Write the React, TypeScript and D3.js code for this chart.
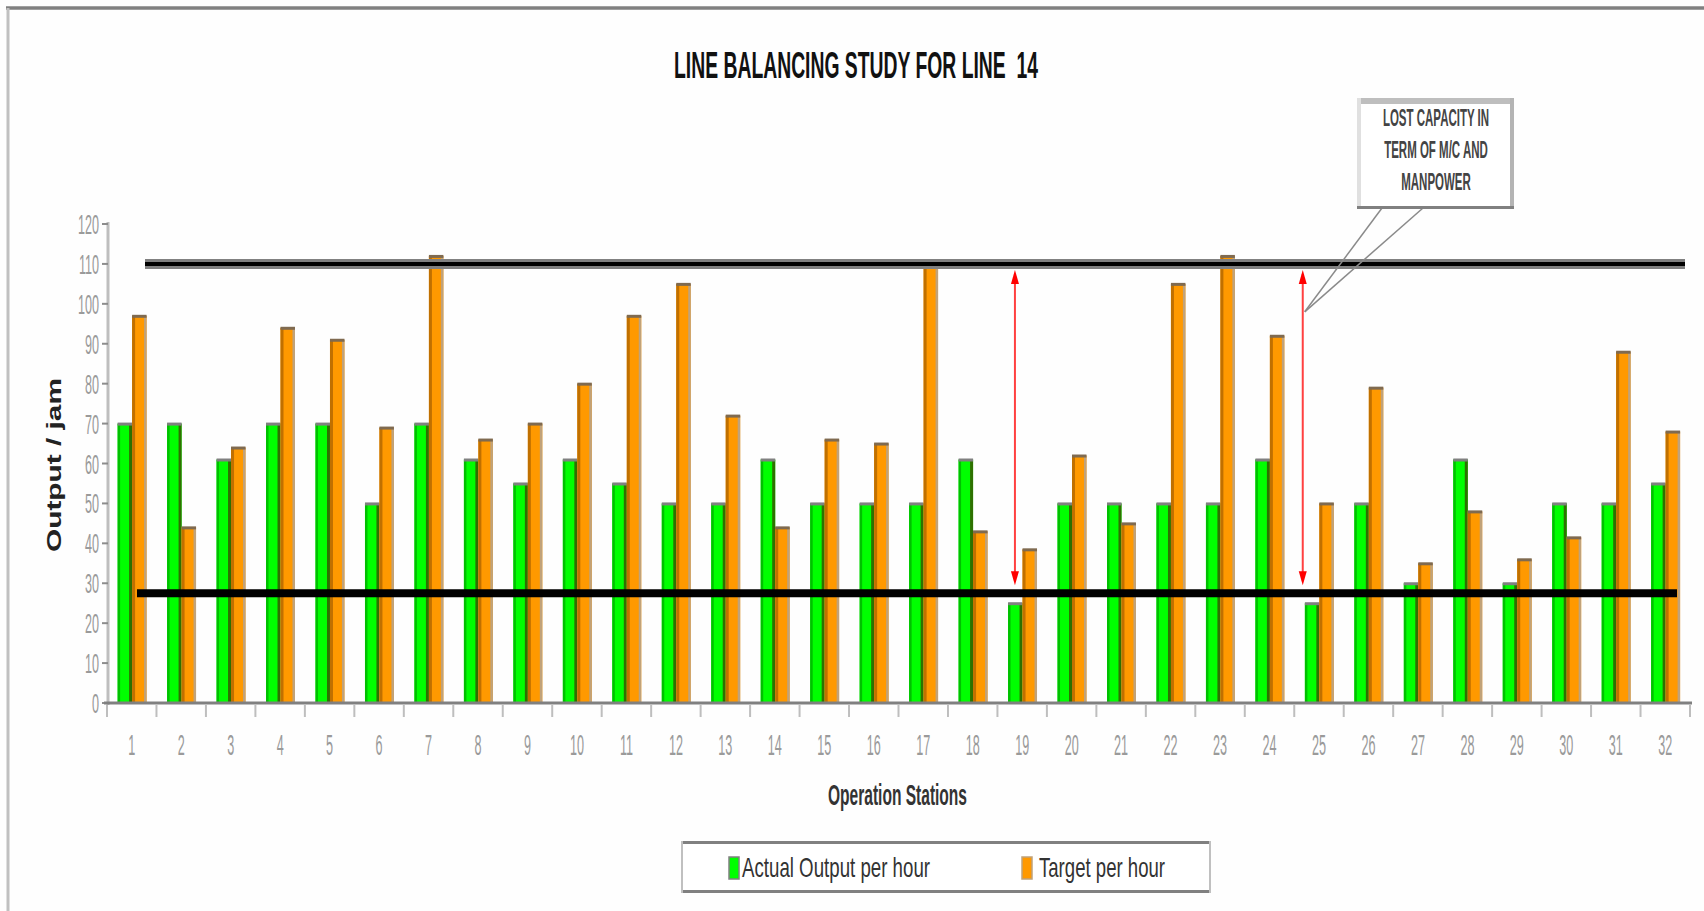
import React from 'react';
import * as d3 from 'd3';

const stations = ['1','2','3','4','5','6','7','8','9','10','11','12','13','14','15','16','17','18','19','20','21','22','23','24','25','26','27','28','29','30','31','32'];
const actualOutput = [70,70,61,70,70,50,70,61,55,61,55,50,50,61,50,50,50,61,25,50,50,50,50,61,25,50,30,61,30,50,50,55];
const targetPerHour = [97,44,64,94,91,69,112,66,70,80,97,105,72,44,66,65,110,43,38.5,62,45,105,112,92,50,79,35,48,36,41.5,88,68];
const yTickValues = [0,10,20,30,40,50,60,70,80,90,100,110,120];
const seriesNames = ['Actual Output per hour','Target per hour'];
const maxCapacityLevel = 110;
const bottleneckLevel = 27.5;
const arrowStations = ['19','25'];
const arrowFrom = 108.5;
const arrowTo = 29.5;
const calloutLines = ['LOST CAPACITY IN','TERM OF M/C AND','MANPOWER'];
const title = 'LINE BALANCING STUDY FOR LINE  14';

const W = 1704, H = 911;
const FONT = 'Liberation Sans, Arial, sans-serif';

export default function App() {
  const x = d3.scaleBand<string>().domain(stations).range([107, 1690]).padding(0);
  const bw = x.bandwidth();
  const sub = d3.scaleBand<string>().domain(['actual','target']).range([bw * 0.215, bw * 0.8]).padding(0);
  const sw = sub.bandwidth();
  const y = d3.scaleLinear().domain([0, 120]).range([703, 224]);

  const bars: React.ReactNode[] = [];
  stations.forEach((s, i) => {
    const x0 = (x(s) as number);
    {
      const bx = x0 + (sub('actual') as number);
      const by = y(actualOutput[i]);
      const bh = y(0) - by;
      bars.push(
        <g key={'a' + s}>
          <rect x={bx} y={by} width={sw} height={bh} fill="#00FF00" />
          <rect x={bx} y={by} width={2.5} height={bh} fill="#00C000" />
          <rect x={bx + sw - 3} y={by} width={3} height={bh} fill="#2E7000" />
          <rect x={bx} y={by - 1} width={sw} height={3} fill="#808080" />
        </g>
      );
    }
    {
      const bx = x0 + (sub('target') as number);
      const by = y(targetPerHour[i]);
      const bh = y(0) - by;
      bars.push(
        <g key={'t' + s}>
          <rect x={bx} y={by} width={sw} height={bh} fill="#FF9900" />
          <rect x={bx} y={by} width={3} height={bh} fill="#C07000" />
          <rect x={bx + sw - 2.5} y={by} width={2.5} height={bh} fill="#C0A27A" />
          <rect x={bx} y={by - 1} width={sw} height={3} fill="#7F6A50" />
        </g>
      );
    }
  });

  const arrowX = [ (x(arrowStations[0]) as number) + 17.5, (x(arrowStations[1]) as number) + 8.5 ];
  const tipX = (x(arrowStations[1]) as number) + 10.5;
  const tipY = y(98);

  return (
    <svg width={W} height={H} style={{ position: 'absolute', left: 0, top: 0, background: '#fff' }}>
      <rect x={0} y={0} width={W} height={H} fill="#FEFEFE" />
      <line x1={6} x2={W} y1={8} y2={8} stroke="#808080" strokeWidth={3.5} />
      <line x1={8} x2={8} y1={8} y2={H} stroke="#C0C0C0" strokeWidth={3} />

      <text x={674} y={78} textLength={364} lengthAdjust="spacingAndGlyphs" fontFamily={FONT} fontWeight="bold" fontSize={37} fill="#111" style={{ whiteSpace: 'pre' }}>{title}</text>

      <line x1={108} x2={108} y1={y(120) - 2} y2={y(0) + 2} stroke="#BEBEBE" strokeWidth={3} />
      {yTickValues.map(v => (
        <g key={'yt' + v}>
          <line x1={102} x2={108} y1={y(v)} y2={y(v)} stroke="#8C8C8C" strokeWidth={2} />
          <text transform={`translate(99,${y(v) + 10}) scale(0.45,1)`} textAnchor="end" fontFamily={FONT} fontSize={28} fill="#9A9A9A">{v}</text>
        </g>
      ))}
      <text transform={`translate(61,465) rotate(-90)`} textAnchor="middle" textLength={174} lengthAdjust="spacingAndGlyphs" fontFamily={FONT} fontWeight="bold" fontSize={20} fill="#222">Output / jam</text>

      {bars}

      <line x1={104} x2={1692} y1={y(0)} y2={y(0)} stroke="#808080" strokeWidth={3} />
      {stations.map(s => (
        <line key={'xt' + s} x1={x(s) as number} x2={x(s) as number} y1={y(0) + 2} y2={y(0) + 14} stroke="#BEBEBE" strokeWidth={2} />
      ))}
      <line x1={1690} x2={1690} y1={y(0) + 2} y2={y(0) + 14} stroke="#BEBEBE" strokeWidth={2} />
      {stations.map(s => (
        <text key={'xl' + s} transform={`translate(${(x(s) as number) + bw / 2},755) scale(0.42,1)`} textAnchor="middle" fontFamily={FONT} fontSize={30} fill="#9A9A9A">{s}</text>
      ))}
      <text x={828} y={805} textLength={139} lengthAdjust="spacingAndGlyphs" fontFamily={FONT} fontWeight="bold" fontSize={29} fill="#333">Operation Stations</text>

      <line x1={145} x2={1685} y1={y(maxCapacityLevel)} y2={y(maxCapacityLevel)} stroke="#808080" strokeWidth={10} />
      <line x1={145} x2={1685} y1={y(maxCapacityLevel)} y2={y(maxCapacityLevel)} stroke="#000" strokeWidth={4} />
      <line x1={137} x2={1677} y1={y(bottleneckLevel)} y2={y(bottleneckLevel)} stroke="#000" strokeWidth={8} />

      {arrowX.map((ax, i) => (
        <g key={'ar' + i}>
          <line x1={ax} x2={ax} y1={y(arrowFrom) + 4} y2={y(arrowTo) - 4} stroke="#FF4040" strokeWidth={2} />
          <path d={`M${ax},${y(arrowFrom)} L${ax - 4},${y(arrowFrom) + 14} L${ax + 4},${y(arrowFrom) + 14} Z`} fill="#FF0000" />
          <path d={`M${ax},${y(arrowTo)} L${ax - 4},${y(arrowTo) - 14} L${ax + 4},${y(arrowTo) - 14} Z`} fill="#FF0000" />
        </g>
      ))}

      <line x1={1382} y1={208} x2={tipX} y2={tipY} stroke="#8A8A8A" strokeWidth={1.5} />
      <line x1={1423} y1={208} x2={tipX} y2={tipY} stroke="#8A8A8A" strokeWidth={1.5} />
      <rect x={1357} y={98} width={156} height={111} fill="#FFFFFF" />
      <rect x={1357} y={98} width={156} height={6} fill="#BEBEBE" />
      <rect x={1357} y={98} width={4} height={111} fill="#E0E0E0" />
      <rect x={1510} y={98} width={4} height={111} fill="#B4B4B4" />
      <rect x={1357} y={206} width={157} height={3} fill="#808080" />
      {calloutLines.map((t, i) => (
        <text key={'cl' + i} transform={`translate(1436,${126 + i * 32}) scale(0.5,1)`} textAnchor="middle" fontFamily={FONT} fontWeight="bold" fontSize={23} fill="#444">{t}</text>
      ))}

      <rect x={681} y={841} width={530} height={52} fill="#FFFFFF" />
      <line x1={681} x2={1211} y1={842.5} y2={842.5} stroke="#808080" strokeWidth={3} />
      <line x1={681} x2={1211} y1={891.5} y2={891.5} stroke="#808080" strokeWidth={3} />
      <line x1={682} x2={682} y1={841} y2={893} stroke="#C0C0C0" strokeWidth={2} />
      <line x1={1210} x2={1210} y1={841} y2={893} stroke="#C0C0C0" strokeWidth={2} />
      <rect x={729} y={857} width={10} height={22} fill="#00FF00" stroke="#808080" strokeWidth={1.5} />
      <text x={742} y={877} textLength={188} lengthAdjust="spacingAndGlyphs" fontFamily={FONT} fontSize={28} fill="#333">{seriesNames[0]}</text>
      <rect x={1022} y={857} width={10} height={22} fill="#FF9900" stroke="#C0A27A" strokeWidth={1.5} />
      <text x={1039} y={877} textLength={126} lengthAdjust="spacingAndGlyphs" fontFamily={FONT} fontSize={28} fill="#333">{seriesNames[1]}</text>
    </svg>
  );
}
